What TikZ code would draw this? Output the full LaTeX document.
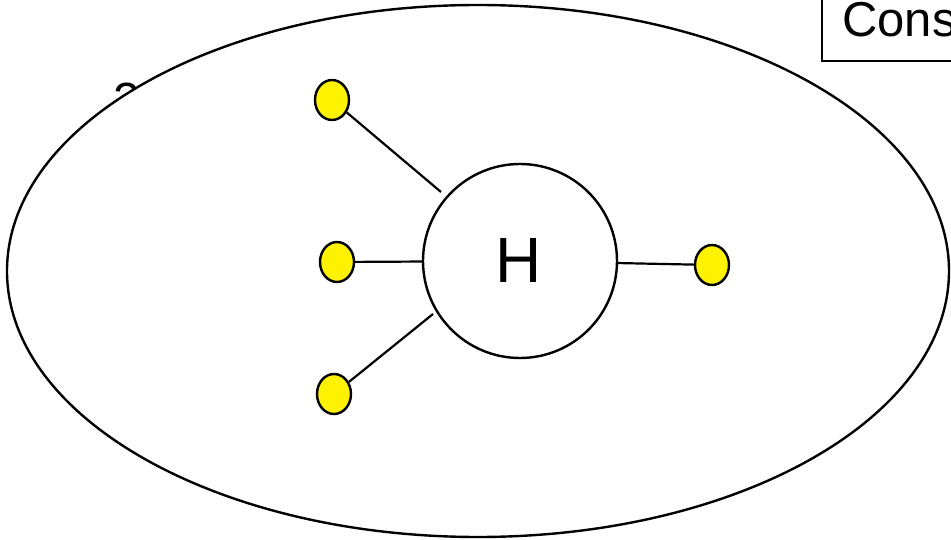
\documentclass[tikz,border=0pt]{standalone}
\usepackage{fontspec}
\setmainfont{Liberation Sans}
\usetikzlibrary{shapes.geometric}
\begin{document}
\begin{tikzpicture}[x=1pt,y=-1pt,
  dot/.style={ellipse,draw=black,line width=2.4pt,fill=yellow,minimum width=34pt,minimum height=40pt,inner sep=0pt},
  bond/.style={draw=black,line width=2.2pt},
  hub/.style={circle,draw=black,line width=2.4pt,fill=white,minimum size=194pt,inner sep=0pt}]
\useasboundingbox (0,0) rectangle (951,540);
\clip (0,0) rectangle (951,540);
\node[anchor=base,font=\fontsize{48}{52}\selectfont,inner sep=0pt] (two) at (127,117) {2};
\draw[line width=2.4pt,fill=white] (478,271) ellipse [x radius=471, y radius=266];
\node[draw=black,line width=1.8pt,anchor=north west,minimum width=200pt,minimum height=85pt,inner sep=0pt] (box) at (821,-25) {};
\node[anchor=base west,font=\fontsize{49}{53}\selectfont,inner sep=0pt] (cons) at (842,37) {Cons};
\node[hub] (H) at (520,261) {};
\node[anchor=base,font=\fontsize{64}{68}\selectfont,inner sep=0pt] (Hl) at (519,283) {H};
\node[dot] (d1) at (332,100) {};
\node[dot] (d2) at (337,262) {};
\node[dot] (d3) at (334,394) {};
\node[dot] (d4) at (712,265) {};
\coordinate (e1) at (441,192);
\coordinate (e3) at (433,314);
\draw[bond] (d1) -- (e1);
\draw[bond] (d2) -- (H);
\draw[bond] (d3) -- (e3);
\draw[bond] (H) -- (d4);
\end{tikzpicture}
\end{document}
